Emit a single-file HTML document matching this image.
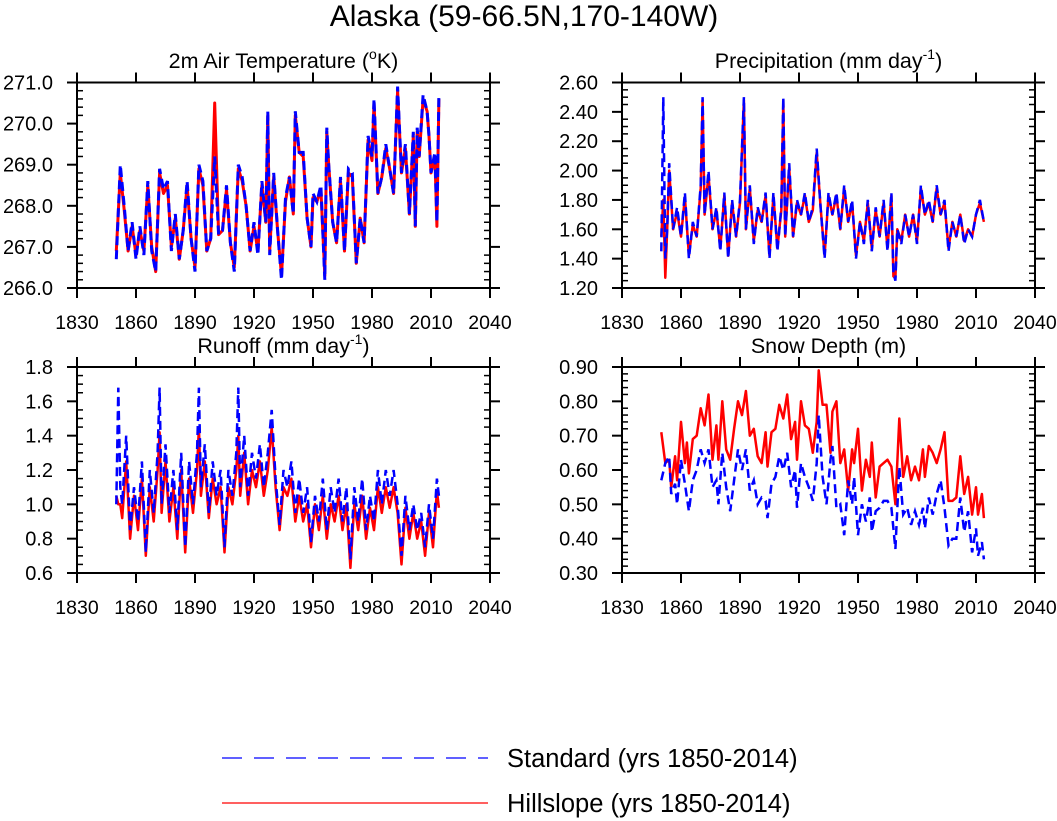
<!DOCTYPE html>
<html><head><meta charset="utf-8"><style>
body{margin:0;background:#fff;}
svg{display:block;font-family:"Liberation Sans",Arial,sans-serif;}
</style></head><body>
<svg id="chart" width="1057" height="821" viewBox="0 0 1057 821">
<text x="524" y="26" font-size="30" text-anchor="middle">Alaska (59-66.5N,170-140W)</text>
<g id="panels"></g>
<g>
<line x1="222" y1="758" x2="488" y2="758" stroke="#0000ff" stroke-width="1.2" stroke-dasharray="20 12"/>
<text x="507" y="767" font-size="25.5">Standard (yrs 1850-2014)</text>
<line x1="222" y1="803" x2="488" y2="803" stroke="#ff0000" stroke-width="1.2"/>
<text x="507" y="812" font-size="25.5">Hillslope (yrs 1850-2014)</text>
</g>
</svg>
<script>
const xTicks=[1830,1860,1890,1920,1950,1980,2010,2040];

const tYears=[1850,1852,1854,1856,1858,1860,1862,1864,1866,1868,1870,1872,1874,1876,1878,1880,1882,1884,1886,1888,1890,1892,1894,1896,1898,1900,1902,1904,1906,1908,1910,1912,1914,1916,1918,1920,1922,1924,1926,1927,1928,1930,1932,1934,1936,1938,1940,1941,1943,1945,1947,1949,1950,1952,1954,1956,1957,1958,1960,1962,1964,1966,1968,1970,1972,1974,1976,1978,1980,1981,1983,1985,1987,1989,1991,1993,1995,1997,1999,2001,2002,2003,2004,2006,2008,2009,2010,2012,2013,2014];
const tStd=[266.7,269.0,268.0,266.9,267.6,266.7,267.5,266.8,268.6,266.9,266.4,268.9,268.4,268.6,266.9,267.8,266.7,267.4,268.6,267.2,266.4,269.0,268.6,266.9,267.2,269.2,267.3,267.4,268.5,267.1,266.4,269.0,268.7,268.0,266.9,267.6,266.8,268.6,267.6,270.3,266.8,268.8,267.4,266.2,268.2,268.7,267.8,270.3,269.3,269.3,267.7,267.0,268.3,268.1,268.5,266.2,269.9,269.0,267.6,267.1,268.7,266.9,268.9,268.8,266.6,267.7,267.1,269.7,269.2,270.6,268.3,268.7,269.5,268.9,268.3,270.9,268.8,269.5,267.8,269.8,267.5,269.9,269.2,270.7,270.3,269.7,268.8,269.3,267.6,270.7];
const tHill=[266.9,268.8,267.9,266.9,267.5,266.8,267.4,266.9,268.5,267.0,266.4,268.8,268.3,268.5,267.0,267.7,266.7,267.4,268.5,267.2,266.5,268.9,268.5,266.9,267.2,270.5,267.3,267.4,268.4,267.1,266.5,268.9,268.6,268.0,266.9,267.5,266.9,268.5,267.6,270.2,266.9,268.7,267.4,266.3,268.1,268.7,267.8,270.2,269.3,269.2,267.7,267.0,268.2,268.1,268.4,266.3,269.8,269.0,267.6,267.1,268.6,266.9,268.8,268.7,266.6,267.7,267.1,269.6,269.1,270.5,268.3,268.7,269.4,268.9,268.3,270.8,268.8,269.4,267.8,269.7,267.5,269.8,269.2,270.6,270.3,269.7,268.8,269.2,267.5,270.6];

const pYears=[1850,1851,1852,1853,1854,1856,1858,1860,1862,1864,1866,1868,1870,1871,1872,1874,1876,1878,1880,1882,1884,1886,1888,1890,1892,1893,1895,1897,1899,1901,1903,1905,1907,1909,1911,1912,1913,1915,1917,1919,1921,1923,1925,1927,1929,1931,1933,1935,1937,1939,1941,1943,1945,1947,1949,1951,1953,1955,1957,1959,1961,1963,1965,1967,1968,1969,1970,1972,1974,1976,1978,1980,1982,1984,1986,1988,1990,1992,1994,1996,1998,2000,2002,2004,2006,2008,2010,2012,2014];
const pStd=[1.45,2.50,1.40,1.60,2.05,1.60,1.75,1.55,1.85,1.40,1.65,1.55,1.90,2.50,1.70,2.00,1.60,1.75,1.45,1.85,1.40,1.80,1.55,1.80,2.50,1.60,1.90,1.50,1.75,1.65,1.85,1.40,1.85,1.45,1.75,2.50,1.55,2.05,1.55,1.80,1.70,1.85,1.65,1.75,2.15,1.75,1.40,1.85,1.70,1.85,1.60,1.90,1.65,1.80,1.40,1.65,1.50,1.80,1.45,1.75,1.55,1.80,1.45,1.85,1.30,1.25,1.60,1.50,1.70,1.55,1.70,1.50,1.90,1.70,1.80,1.65,1.90,1.70,1.80,1.45,1.65,1.55,1.70,1.50,1.60,1.55,1.70,1.80,1.65];
const pHill=[1.55,1.80,1.27,1.60,2.00,1.60,1.72,1.55,1.82,1.42,1.63,1.55,1.88,2.48,1.70,1.97,1.60,1.73,1.47,1.83,1.42,1.78,1.55,1.78,2.48,1.60,1.88,1.52,1.73,1.65,1.83,1.42,1.83,1.47,1.73,2.48,1.55,2.02,1.55,1.78,1.70,1.83,1.65,1.73,2.12,1.75,1.42,1.83,1.70,1.83,1.60,1.88,1.65,1.78,1.42,1.65,1.52,1.78,1.47,1.73,1.55,1.78,1.47,1.83,1.28,1.27,1.60,1.52,1.70,1.55,1.70,1.52,1.88,1.70,1.78,1.65,1.88,1.70,1.78,1.47,1.65,1.55,1.70,1.52,1.60,1.55,1.70,1.78,1.65];

const rYears=[1850,1851,1852,1853,1855,1857,1859,1861,1863,1865,1867,1869,1871,1872,1873,1875,1877,1879,1881,1883,1885,1887,1889,1891,1892,1893,1895,1897,1899,1901,1903,1905,1907,1909,1911,1912,1913,1915,1917,1919,1921,1923,1925,1927,1929,1931,1933,1935,1937,1939,1941,1943,1945,1947,1949,1951,1953,1955,1957,1959,1961,1963,1965,1967,1969,1971,1973,1975,1977,1979,1981,1983,1985,1987,1989,1991,1993,1995,1997,1999,2001,2003,2005,2007,2009,2011,2013,2014];
const rStd=[1.0,1.68,1.1,1.0,1.4,0.85,1.1,0.9,1.25,0.72,1.2,0.95,1.3,1.68,1.0,1.35,0.95,1.2,0.85,1.3,0.75,1.25,1.0,1.3,1.68,1.1,1.35,0.95,1.25,1.05,1.2,0.75,1.2,1.05,1.3,1.68,1.1,1.4,1.05,1.3,1.15,1.35,1.1,1.3,1.55,1.15,0.88,1.2,1.1,1.25,0.95,1.15,0.95,1.1,0.78,1.05,0.9,1.15,0.85,1.1,0.95,1.15,0.9,1.1,0.68,1.1,0.9,1.15,0.85,1.05,0.9,1.2,1.0,1.2,1.05,1.2,1.0,0.7,1.05,0.85,1.0,0.85,0.95,0.75,1.0,0.8,1.15,1.05];
const rHill=[1.05,1.0,1.0,0.92,1.25,0.8,1.05,0.85,1.15,0.7,1.1,0.9,1.2,1.42,0.95,1.25,0.9,1.1,0.8,1.2,0.72,1.15,0.95,1.2,1.45,1.05,1.25,0.92,1.15,1.0,1.1,0.72,1.1,1.0,1.2,1.4,1.05,1.3,1.0,1.2,1.1,1.25,1.05,1.2,1.45,1.1,0.85,1.1,1.05,1.15,0.9,1.05,0.9,1.0,0.75,1.0,0.85,1.05,0.8,1.0,0.9,1.05,0.85,1.0,0.63,1.0,0.85,1.05,0.8,0.98,0.85,1.1,0.95,1.1,0.98,1.1,0.95,0.65,0.98,0.8,0.95,0.8,0.9,0.7,0.95,0.75,1.08,0.98];

const sYears=[1850,1852,1854,1855,1857,1858,1860,1862,1863,1864,1866,1868,1870,1872,1874,1876,1878,1879,1881,1883,1885,1887,1889,1891,1893,1895,1897,1899,1901,1903,1904,1906,1908,1910,1912,1914,1916,1918,1919,1921,1923,1925,1927,1929,1930,1932,1934,1936,1937,1939,1941,1943,1945,1947,1948,1950,1952,1954,1956,1957,1959,1961,1963,1965,1967,1969,1971,1973,1975,1977,1979,1981,1983,1984,1986,1988,1990,1992,1994,1996,1998,2000,2002,2004,2006,2008,2010,2011,2013,2014];
const sStd=[.57,.62,.64,.53,.56,.50,.63,.56,.52,.48,.57,.60,.66,.62,.66,.55,.57,.50,.65,.55,.48,.57,.66,.60,.66,.54,.57,.50,.52,.51,.46,.56,.58,.64,.60,.65,.55,.60,.49,.62,.58,.55,.51,.62,.76,.58,.50,.63,.67,.49,.50,.41,.57,.50,.58,.41,.50,.45,.52,.42,.48,.49,.51,.51,.49,.37,.61,.47,.49,.44,.48,.44,.49,.43,.52,.47,.53,.57,.49,.38,.40,.40,.52,.42,.48,.36,.43,.35,.39,.34];
const sHill=[.71,.62,.63,.55,.64,.57,.74,.62,.68,.59,.69,.70,.78,.73,.82,.63,.73,.63,.80,.66,.63,.72,.80,.76,.83,.70,.72,.64,.62,.71,.61,.71,.72,.79,.75,.82,.69,.74,.63,.80,.73,.72,.65,.74,.89,.79,.79,.65,.77,.80,.62,.66,.54,.66,.62,.72,.54,.63,.58,.68,.52,.61,.62,.63,.61,.50,.75,.58,.64,.57,.61,.57,.66,.58,.67,.65,.62,.66,.71,.51,.51,.52,.64,.53,.58,.47,.55,.47,.53,.46];

const NS='http://www.w3.org/2000/svg';
const root=document.getElementById('panels');
function mk(tag,attrs,parent){const e=document.createElementNS(NS,tag);for(const k in attrs)e.setAttribute(k,attrs[k]);parent.appendChild(e);return e;}

const panels=[
 {name:'temperature',title:'2m Air Temperature (',sup:'o',tail:'K)',x0:77,x1:490,y0:82.5,y1:288,ymin:266,ymax:271,step:1,dec:1,minor:5,years:tYears,std:tStd,hill:tHill,sw:3,ty:68},
 {name:'precipitation',title:'Precipitation (mm day',sup:'-1',tail:')',x0:622,x1:1035,y0:82.5,y1:288,ymin:1.2,ymax:2.6,step:0.2,dec:2,minor:4,years:pYears,std:pStd,hill:pHill,sw:2.5,ty:68},
 {name:'runoff',title:'Runoff (mm day',sup:'-1',tail:')',x0:77,x1:490,y0:367,y1:573,ymin:0.6,ymax:1.8,step:0.2,dec:1,minor:4,years:rYears,std:rStd,hill:rHill,sw:2.5,ty:353},
 {name:'snow-depth',title:'Snow Depth (m)',sup:'',tail:'',x0:622,x1:1035,y0:367,y1:573,ymin:0.3,ymax:0.9,step:0.1,dec:2,minor:5,years:sYears,std:sStd,hill:sHill,sw:2.5,ty:353}
];

panels.forEach(p=>{
 const g=mk('g',{},root);
 
 
 const X=v=>p.x0+(v-1830)/(2040-1830)*(p.x1-p.x0);
 const Y=v=>p.y1-(v-p.ymin)/(p.ymax-p.ymin)*(p.y1-p.y0);
 const t=mk('text',{x:(p.x0+p.x1)/2,y:p.ty,'font-size':21.5,'text-anchor':'middle'},g);
 
 
 t.appendChild(document.createTextNode(p.title));
 if(p.sup){const s=mk('tspan',{'font-size':14,dy:-9},t);s.textContent=p.sup;const s2=mk('tspan',{'font-size':21.5,dy:9},t);s2.textContent=p.tail;}
 const pts=(arr)=>arr.map((v,i)=>X(p.years[i]).toFixed(1)+','+Y(v).toFixed(1)).join(' ');
 const hl=mk('polyline',{points:pts(p.hill),fill:'none',stroke:'#ff0000','stroke-width':p.sw,'stroke-linejoin':'round'},g);
 
 
 const sl=mk('polyline',{points:pts(p.std),fill:'none',stroke:'#0000ff','stroke-width':p.sw,'stroke-dasharray':'9 5'},g);
 
 
 const fr=mk('rect',{x:p.x0,y:p.y0,width:p.x1-p.x0,height:p.y1-p.y0,fill:'none',stroke:'#000','stroke-width':2},g);
 
 
 xTicks.forEach(v=>{
  const x=X(v);
  mk('line',{x1:x,y1:p.y1,x2:x,y2:p.y1+10,stroke:'#000','stroke-width':2},g);
  mk('line',{x1:x,y1:p.y0,x2:x,y2:p.y0-10,stroke:'#000','stroke-width':2},g);
  const l=mk('text',{x:x,y:p.y1+41,'font-size':19.5,'text-anchor':'middle'},g);
  
  
  l.textContent=v;
 });
 const n=Math.round((p.ymax-p.ymin)/p.step);
 for(let i=0;i<=n;i++){
  const v=p.ymin+i*p.step, y=Y(v);
  mk('line',{x1:p.x0-10,y1:y,x2:p.x0,y2:y,stroke:'#000','stroke-width':2},g);
  mk('line',{x1:p.x1,y1:y,x2:p.x1+10,y2:y,stroke:'#000','stroke-width':2},g);
  const l=mk('text',{x:p.x0-24,y:y+7,'font-size':20,'text-anchor':'end'},g);
  
  
  l.textContent=v.toFixed(p.dec);
  if(i<n){for(let k=1;k<p.minor;k++){const yy=Y(v+k*p.step/p.minor);
   mk('line',{x1:p.x0,y1:yy,x2:p.x0+6,y2:yy,stroke:'#000','stroke-width':1.5},g);
   mk('line',{x1:p.x1-6,y1:yy,x2:p.x1,y2:yy,stroke:'#000','stroke-width':1.5},g);}}
 }
});
</script>
</body></html>
